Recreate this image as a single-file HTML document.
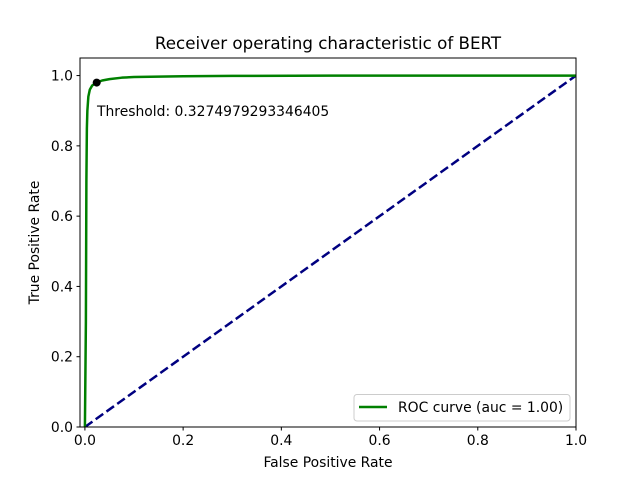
<!DOCTYPE html>
<html><head><meta charset="utf-8"><style>
body{margin:0;background:#fff;}
svg{display:block;font-family:"DejaVu Sans","Liberation Sans",sans-serif;}
</style></head><body>
<svg id="chart" width="640" height="480">
<rect width="640" height="480" fill="#fff"/>
<text x="328" y="49" font-size="16.7" text-anchor="middle">Receiver operating characteristic of BERT</text>
<g id="plot"></g>
<rect x="80" y="58" width="496" height="369" fill="none" stroke="#000" stroke-width="1"/>
<text x="328" y="467" font-size="13.9" text-anchor="middle">False Positive Rate</text>
<text transform="translate(39,242.5) rotate(-90)" font-size="13.9" text-anchor="middle">True Positive Rate</text>
<g>
<rect x="354" y="394.5" width="216" height="26.5" rx="3" fill="#fff" stroke="#ccc"/>
<line x1="359" y1="407" x2="387" y2="407" stroke="#008000" stroke-width="2.5"/>
<text x="398" y="412" font-size="13.9">ROC curve (auc = 1.00)</text>
</g>
</svg>
<script>
const fpr=[0,0.002,0.003,0.004,0.005,0.007,0.01,0.015,0.024,0.035,0.05,0.075,0.1,0.2,0.3,0.5,1.0];
const tpr=[0,0.3,0.7,0.85,0.9,0.94,0.96,0.972,0.98,0.986,0.99,0.994,0.996,0.998,0.999,1.0,1.0];
const diagX=[0,1];
const diagY=[0,1];
const xTicks=[0,0.2,0.4,0.6,0.8,1.0];
const yTicks=[0,0.2,0.4,0.6,0.8,1.0];
const thrPoint=[0.024,0.98];
const thrLabel="Threshold: 0.3274979293346405";
const L=80,R=576,T=58,B=427,xmin=-0.01,xmax=1.0,ymin=0,ymax=1.05;
const sx=v=>L+(v-xmin)/(xmax-xmin)*(R-L);
const sy=v=>B-(v-ymin)/(ymax-ymin)*(B-T);
const ns="http://www.w3.org/2000/svg";
const g=document.getElementById('plot');
function mk(t,a){const e=document.createElementNS(ns,t);for(const k in a)e.setAttribute(k,a[k]);g.appendChild(e);return e;}
xTicks.forEach(v=>{
 const l=mk('line',{x1:sx(v),x2:sx(v),y1:B,y2:B+3.5,stroke:'#000'});
 
 
 const t=mk('text',{x:sx(v),y:B+18,'font-size':13.9,'text-anchor':'middle'});t.textContent=v.toFixed(1);
 
 
});
yTicks.forEach(v=>{
 const l=mk('line',{x1:L-3.5,x2:L,y1:sy(v),y2:sy(v),stroke:'#000'});
 
 
 const t=mk('text',{x:L-7,y:sy(v)+5,'font-size':13.9,'text-anchor':'end'});t.textContent=v.toFixed(1);
 
 
});
const cp=document.createElementNS(ns,'clipPath');cp.id='clip';
const cr=document.createElementNS(ns,'rect');cr.setAttribute('x',L);cr.setAttribute('y',T);cr.setAttribute('width',R-L);cr.setAttribute('height',B-T);cp.appendChild(cr);g.appendChild(cp);
const d=mk('polyline',{points:diagX.map((x,i)=>sx(x)+','+sy(diagY[i])).join(' '),fill:'none',stroke:'#000080','stroke-width':2.5,'stroke-dasharray':'9.25,4','clip-path':'url(#clip)'});


const c=mk('polyline',{points:fpr.map((x,i)=>sx(x)+','+sy(tpr[i])).join(' '),fill:'none',stroke:'#008000','stroke-width':2.5,'stroke-linejoin':'round','clip-path':'url(#clip)'});


const p=mk('circle',{cx:sx(thrPoint[0]),cy:sy(thrPoint[1]),r:4,fill:'#000'});


const tl=mk('text',{x:97,y:116,'font-size':13.9});tl.textContent=thrLabel;


</script>
</body></html>
